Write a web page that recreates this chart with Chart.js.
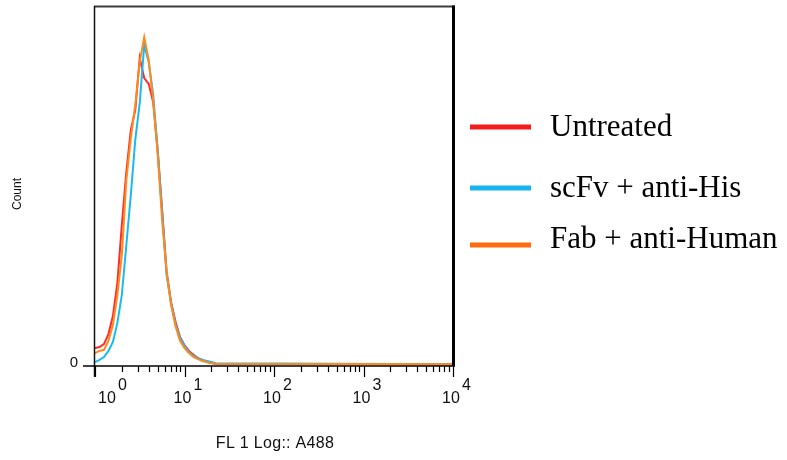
<!DOCTYPE html>
<html>
<head>
<meta charset="utf-8">
<script src="https://cdn.jsdelivr.net/npm/chart.js@4/dist/chart.umd.min.js"></script>
<style>
  body { margin: 0; background: #fff; }
  #wrap { width: 787px; height: 460px; }
</style>
</head>
<body>
<div id="wrap"><canvas id="histo" width="787" height="460"></canvas></div>
<script>
// FL1 (A488) channel value at each histogram bin
var fluorescence = [1, 1.122, 1.259, 1.413, 1.585, 1.778, 1.995, 2.239, 2.512, 2.818,
                    3.162, 3.548, 3.981, 4.467, 5.012, 5.623, 6.310, 7.079, 7.943, 8.913,
                    10, 11.22, 12.59, 14.13, 15.85, 17.78, 19.95, 22.39, 10000];

// % of max count per bin
var untreated    = [5.0, 5.3, 6.1, 8.9, 13.9, 23.1, 39.3, 54.0, 65.7, 71.3,
                    85.8, 80.2, 78.6, 73.5, 60.2, 43.5, 26.2, 17.8, 12.3, 8.1,
                    5.8, 4.2, 3.1, 2.2, 1.7, 1.1, 0.8, 0.6, 0.5];
var scfvAntiHis  = [1.1, 1.7, 2.5, 4.2, 6.7, 12.0, 19.8, 33.7, 47.6, 63.0,
                    73.3, 89.4, 84.7, 75.5, 60.2, 42.9, 25.3, 17.5, 11.7, 7.8,
                    5.6, 3.9, 2.8, 2.2, 1.7, 1.4, 1.1, 0.8, 0.5];
var fabAntiHuman = [3.6, 4.2, 4.5, 7.0, 11.4, 19.8, 30.9, 51.8, 63.5, 72.7,
                    84.7, 91.6, 85.2, 74.1, 59.1, 40.7, 26.2, 17.0, 11.1, 7.0,
                    5.0, 3.6, 2.5, 1.9, 1.4, 1.1, 0.8, 0.6, 0.5];

var seriesNames = ['Untreated', 'scFv + anti-His', 'Fab + anti-Human'];
var decadeTicks = [1, 10, 100, 1000, 10000];
var decadeExps = ['0', '1', '2', '3', '4'];

var lineColors = ['#ff2a2a', '#1ab9f2', '#ff8a1c'];
var legendColors = ['#f21c1c', '#18b4ef', '#ff6a10'];

function toPoints(ys) {
  return ys.map(function (y, i) { return { x: fluorescence[i], y: y }; });
}

// frame, log ticks, labels and legend drawn around the plot area
var flowAxes = {
  id: 'flowAxes',
  afterDraw: function (chart) {
    var ctx = chart.ctx;
    var a = chart.chartArea;
    var xs = chart.scales.x;
    ctx.save();

    // frame
    ctx.strokeStyle = '#3c3c3c';
    ctx.lineWidth = 2;
    ctx.beginPath(); ctx.moveTo(a.left - 1, a.top - 0.5); ctx.lineTo(a.right + 2, a.top - 0.5); ctx.stroke();
    ctx.strokeStyle = '#111';
    ctx.lineWidth = 1.5;
    ctx.beginPath(); ctx.moveTo(a.left - 0.5, a.top - 1); ctx.lineTo(a.left - 0.5, a.bottom + 11); ctx.stroke();
    ctx.strokeStyle = '#000';
    ctx.lineWidth = 3;
    ctx.beginPath(); ctx.moveTo(a.right + 0.5, a.top - 1.5); ctx.lineTo(a.right + 0.5, a.bottom); ctx.stroke();
    ctx.lineWidth = 1.5;
    ctx.beginPath(); ctx.moveTo(a.left - 12, a.bottom); ctx.lineTo(a.right + 2, a.bottom); ctx.stroke();

    // x ticks: decades long, 2..9 short
    ctx.lineWidth = 1.2;
    decadeTicks.forEach(function (v, d) {
      var px = Math.round(xs.getPixelForValue(v)) + 0.5;
      ctx.beginPath(); ctx.moveTo(px, a.bottom); ctx.lineTo(px, a.bottom + 11); ctx.stroke();
      if (d < decadeTicks.length - 1) {
        for (var m = 2; m <= 9; m++) {
          var mx = Math.round(xs.getPixelForValue(v * m)) + 0.5;
          ctx.beginPath(); ctx.moveTo(mx, a.bottom); ctx.lineTo(mx, a.bottom + 6); ctx.stroke();
        }
      }
    });

    // decade labels 10^n
    ctx.fillStyle = '#111';
    ctx.textBaseline = 'alphabetic';
    decadeTicks.forEach(function (v, d) {
      var px = xs.getPixelForValue(v);
      var cx = d === 0 ? px + 12 : px - 2;
      ctx.font = '16px "Liberation Sans", Arial, sans-serif';
      ctx.textAlign = 'center';
      ctx.fillText('10', cx, a.bottom + 37);
      ctx.textAlign = 'left';
      ctx.fillText(decadeExps[d], cx + 11, a.bottom + 24);
    });

    // y zero label
    ctx.font = '15px "Liberation Sans", Arial, sans-serif';
    ctx.textAlign = 'right';
    ctx.fillText('0', a.left - 17, a.bottom + 1);

    // axis titles
    ctx.font = '12px "Liberation Sans", Arial, sans-serif';
    ctx.textAlign = 'center';
    ctx.save();
    ctx.translate(21, 194);
    ctx.rotate(-Math.PI / 2);
    ctx.fillText('Count', 0, 0);
    ctx.restore();
    ctx.font = '16px "Liberation Sans", Arial, sans-serif';
    ctx.letterSpacing = '0.3px';
    ctx.fillText('FL 1 Log:: A488', 275, 448);
    ctx.letterSpacing = '0px';

    // legend
    var lineY = [127, 188, 245];
    var textY = [136, 197, 248];
    ctx.font = '31px "Liberation Serif", "Times New Roman", serif';
    ctx.textAlign = 'left';
    ctx.lineWidth = 5;
    seriesNames.forEach(function (name, i) {
      ctx.strokeStyle = legendColors[i];
      ctx.beginPath(); ctx.moveTo(470, lineY[i]); ctx.lineTo(531, lineY[i]); ctx.stroke();
      ctx.fillStyle = '#000';
      ctx.fillText(name, 550, textY[i]);
    });
    ctx.restore();
  }
};

new Chart(document.getElementById('histo'), {
  type: 'line',
  data: {
    datasets: [
      { label: seriesNames[0], data: toPoints(untreated), borderColor: lineColors[0], order: 2 },
      { label: seriesNames[1], data: toPoints(scfvAntiHis), borderColor: lineColors[1], order: 1 },
      { label: seriesNames[2], data: toPoints(fabAntiHuman), borderColor: lineColors[2], order: 0 }
    ]
  },
  options: {
    responsive: false,
    animation: false,
    events: [],
    layout: { padding: { left: 95, top: 7, right: 334, bottom: 94 } },
    plugins: { legend: { display: false }, tooltip: { enabled: false } },
    elements: { point: { radius: 0 }, line: { tension: 0, borderWidth: 2, fill: false } },
    scales: {
      x: { type: 'logarithmic', min: 1, max: 10000, display: false },
      y: { min: 0, max: 100, display: false }
    }
  },
  plugins: [flowAxes]
});
</script>
</body>
</html>
